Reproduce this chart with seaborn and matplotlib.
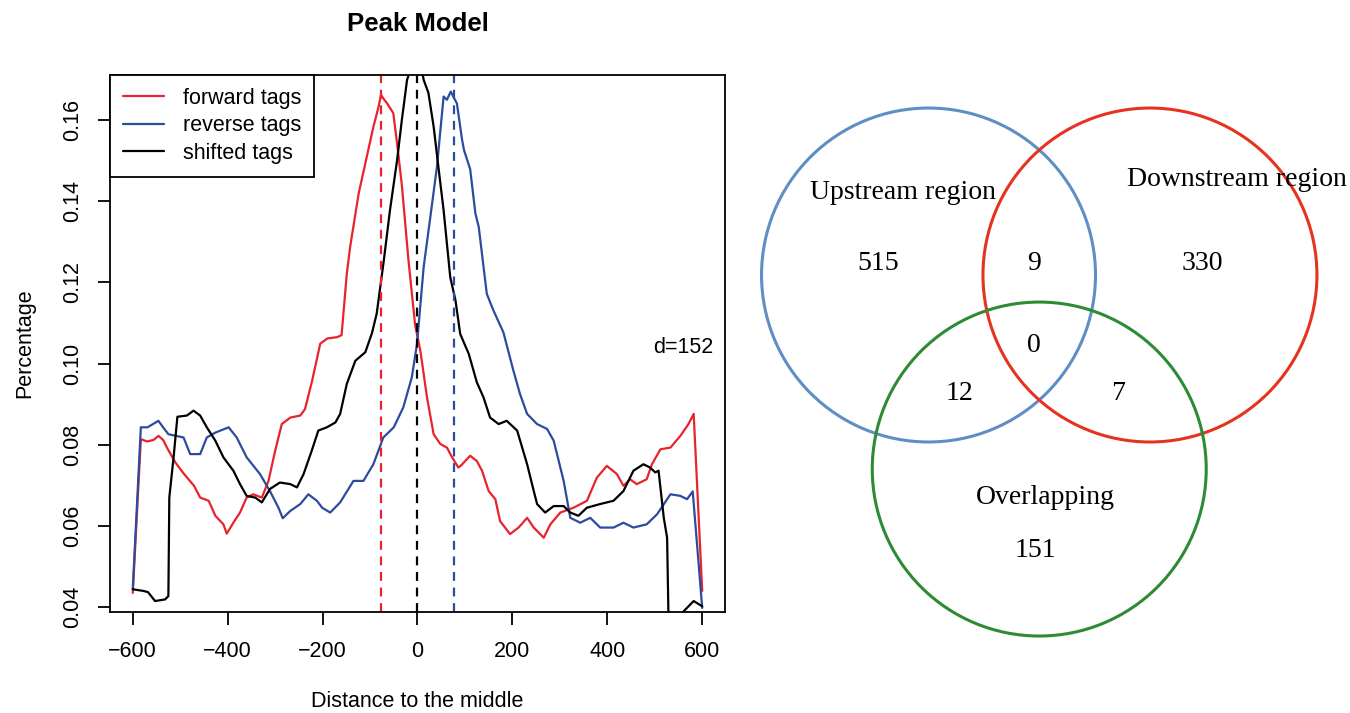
import numpy as np
import pandas as pd
import seaborn as sns
import matplotlib.pyplot as plt
from matplotlib.patches import Circle
from matplotlib.lines import Line2D

# --- peak model profiles ---
fwd_x = [-600, -583, -570, -556, -546, -536, -528, -510, -492, -471, -458, -440, -426, -409,
         -402, -388, -374, -360, -346, -328, -314, -300, -286, -268, -247, -237, -222, -205,
         -190, -170, -160, -149, -142, -124, -107, -93, -82, -77, -70, -64, -51, -43, -33,
         -19, -5, 6, 20, 34, 48, 62, 73, 86, 91, 111, 125, 136, 150, 164, 174, 195, 213,
         231, 245, 266, 280, 301, 329, 357, 378, 399, 420, 434, 448, 462, 483, 494, 512,
         533, 554, 571, 582, 600]
fwd_y = [0.0435, 0.0814, 0.0808, 0.0812, 0.0822, 0.0812, 0.0793, 0.0756, 0.0728, 0.0699,
         0.0670, 0.0662, 0.0625, 0.0604, 0.0581, 0.0608, 0.0633, 0.0670, 0.0678, 0.0670,
         0.0711, 0.0785, 0.0851, 0.0867, 0.0872, 0.0888, 0.0958, 0.1049, 0.1062, 0.1065,
         0.1070, 0.1221, 0.1287, 0.1419, 0.1509, 0.1583, 0.1633, 0.1662, 0.1650, 0.1641,
         0.1617, 0.1542, 0.1440, 0.1254, 0.1095, 0.1032, 0.0917, 0.0826, 0.0802, 0.0793,
         0.0769, 0.0744, 0.0748, 0.0773, 0.0760, 0.0736, 0.0686, 0.0666, 0.0612, 0.0580,
         0.0596, 0.0620, 0.0596, 0.0571, 0.0604, 0.0633, 0.0645, 0.0662, 0.0719, 0.0748,
         0.0728, 0.0699, 0.0715, 0.0703, 0.0715, 0.0752, 0.0789, 0.0793, 0.0822, 0.0851,
         0.0876, 0.0440]

rev_x = [-600, -583, -569, -546, -536, -525, -493, -479, -458, -444, -426, -398, -381, -360,
         -332, -311, -293, -284, -268, -247, -230, -212, -201, -184, -163, -135, -114, -93,
         -72, -50, -30, -12, -1, 13, 27, 41, 55, 62, 70, 83, 94, 98, 111, 122, 129, 146,
         160, 181, 202, 216, 231, 252, 273, 287, 308, 322, 343, 364, 385, 413, 434, 455,
         483, 505, 533, 554, 568, 580, 600]
rev_y = [0.0445, 0.0843, 0.0843, 0.0859, 0.0843, 0.0826, 0.0818, 0.0777, 0.0777, 0.0818,
         0.0830, 0.0843, 0.0818, 0.0769, 0.0728, 0.0686, 0.0645, 0.0619, 0.0637, 0.0654,
         0.0678, 0.0662, 0.0645, 0.0633, 0.0658, 0.0711, 0.0711, 0.0752, 0.0818, 0.0843,
         0.0892, 0.0966, 0.1049, 0.1238, 0.1361, 0.1485, 0.1658, 0.1650, 0.1670, 0.1641,
         0.1551, 0.1526, 0.1479, 0.1370, 0.1337, 0.1172, 0.1131, 0.1077, 0.0983, 0.0925,
         0.0876, 0.0851, 0.0839, 0.0810, 0.0711, 0.0620, 0.0608, 0.0620, 0.0596, 0.0596,
         0.0608, 0.0596, 0.0604, 0.0629, 0.0678, 0.0674, 0.0666, 0.0685, 0.0398]

shift_x = [-600, -578, -568, -553, -532, -525, -523, -514, -506, -486, -472, -458, -444,
           -426, -409, -388, -374, -360, -342, -328, -311, -290, -268, -254, -240, -223,
           -209, -191, -173, -163, -149, -131, -110, -96, -86, -71, -58, -43, -33, -22,
           -12, 0, 8, 13, 23, 34, 44, 55, 69, 80, 90, 108, 125, 139, 153, 171, 188, 210,
           231, 245, 252, 269, 287, 308, 322, 339, 357, 385, 413, 434, 455, 476, 490, 501,
           508, 519, 526, 530, 556, 561, 582, 600]
shift_y = [0.0444, 0.0440, 0.0437, 0.0415, 0.0419, 0.0427, 0.0670, 0.0769, 0.0869, 0.0872,
           0.0884, 0.0872, 0.0843, 0.0810, 0.0769, 0.0736, 0.0703, 0.0674, 0.0670, 0.0658,
           0.0691, 0.0707, 0.0703, 0.0695, 0.0728, 0.0785, 0.0835, 0.0843, 0.0855, 0.0876,
           0.0950, 0.1007, 0.1028, 0.1075, 0.1123, 0.1254, 0.1378, 0.1501, 0.1600, 0.1699,
           0.1735, 0.1745, 0.1730, 0.1699, 0.1667, 0.1584, 0.1485, 0.1378, 0.1213, 0.1156,
           0.1073, 0.1024, 0.0954, 0.0917, 0.0867, 0.0851, 0.0859, 0.0835, 0.0752, 0.0686,
           0.0654, 0.0633, 0.0649, 0.0649, 0.0633, 0.0625, 0.0645, 0.0654, 0.0662, 0.0686,
           0.0736, 0.0752, 0.0744, 0.0732, 0.0736, 0.0620, 0.0571, 0.0300, 0.0300, 0.0390,
           0.0415, 0.0402]

d = 152
tag_names = ['forward tags', 'reverse tags', 'shifted tags']
tag_colors = ['#E8232B', '#2D4B9E', '#000000']

# --- venn counts ---
set_names = ['Upstream region', 'Downstream region', 'Overlapping']
set_colors = ['#5E8EC3', '#E5331F', '#2E8B34']
only_counts = [515, 330, 151]      # up only, down only, overlapping only
pair_counts = [9, 12, 7]           # up&down, up&overlap, down&overlap
all_count = 0

sns.set_style('ticks')
plt.rcParams['font.family'] = ['Liberation Sans', 'DejaVu Sans']
plt.rcParams['axes.edgecolor'] = 'black'
plt.rcParams['text.color'] = 'black'
plt.rcParams['xtick.color'] = 'black'
plt.rcParams['ytick.color'] = 'black'
plt.rcParams['axes.labelcolor'] = 'black'

df = pd.concat([
    pd.DataFrame({'pos': fwd_x, 'pct': fwd_y, 'tags': tag_names[0]}),
    pd.DataFrame({'pos': rev_x, 'pct': rev_y, 'tags': tag_names[1]}),
    pd.DataFrame({'pos': shift_x, 'pct': shift_y, 'tags': tag_names[2]}),
])

fs = 15.5
fig = plt.figure(figsize=(13.5, 7.13), dpi=100)

# left: peak model
ax = fig.add_axes([110 / 1350, 1 - 612 / 713, 615 / 1350, 537 / 713])
sns.lineplot(data=df, x='pos', y='pct', hue='tags', hue_order=tag_names,
             palette=tag_colors, estimator=None, lw=1.6, legend=False, ax=ax)

for pos, col in zip([-d / 2, 0, d / 2], [tag_colors[0], tag_colors[2], tag_colors[1]]):
    ax.axvline(pos, color=col, lw=1.6, ls=(0, (4, 3)))

ax.set_xlim(-648, 648)
ax.set_ylim(0.0388, 0.1711)
ax.set_xticks(np.arange(-600, 601, 200))
ax.set_yticks([0.04, 0.06, 0.08, 0.10, 0.12, 0.14, 0.16])
ax.set_yticklabels(['0.04', '0.06', '0.08', '0.10', '0.12', '0.14', '0.16'])
ax.tick_params(direction='out', length=9, width=1.3, labelsize=fs)
ax.tick_params(axis='x', pad=12)
ax.tick_params(axis='y', labelrotation=90, pad=10)
for lbl in ax.get_yticklabels():
    lbl.set_va('center')
for sp in ax.spines.values():
    sp.set_linewidth(1.3)

ax.set_title('Peak Model', fontsize=18.5, fontweight='bold', pad=32)
ax.set_xlabel('Distance to the middle', fontsize=fs, labelpad=21)
ax.set_ylabel('Percentage', fontsize=fs, labelpad=20)
ax.text(560, 0.104, 'd=%d' % d, fontsize=fs, ha='center', va='center')

handles = [Line2D([0], [0], color=c, lw=1.6) for c in tag_colors]
leg = ax.legend(handles, tag_names, loc='upper left', bbox_to_anchor=(0, 1),
                borderaxespad=0, frameon=True, fancybox=False, edgecolor='black',
                fontsize=fs, handlelength=1.9, handletextpad=0.9,
                labelspacing=0.3, borderpad=0.6)
leg.get_frame().set_linewidth(1.3)
leg.get_frame().set_alpha(1)

# right: venn diagram
ax2 = fig.add_axes([740 / 1350, 0, 610 / 1350, 1])
ax2.set_xlim(-1.792, 1.861)
ax2.set_ylim(-2.623, 1.647)
ax2.axis('off')

centers = [(-0.663, 0), (0.663, 0), (0, -1.162)]
for (cx, cy), col in zip(centers, set_colors):
    ax2.add_patch(Circle((cx, cy), 1, fill=False, ec=col, lw=2.2))

serif = ['Liberation Serif', 'DejaVu Serif']
name_pos = [(-0.816, 0.497), (1.184, 0.575), (0.034, -1.335)]
for (tx, ty), name in zip(name_pos, set_names):
    ax2.text(tx, ty, name, family=serif, fontsize=20, ha='center', va='center')

only_pos = [(-0.966, 0.066), (0.975, 0.066), (-0.025, -1.647)]
pair_pos = [(-0.031, 0.066), (-0.475, -0.707), (0.472, -0.707)]
for (tx, ty), n in zip(only_pos + pair_pos, only_counts + pair_counts):
    ax2.text(tx, ty, str(n), family=serif, fontsize=20, ha='center', va='center')
ax2.text(-0.031, -0.425, str(all_count), family=serif, fontsize=20, ha='center', va='center')

fig.savefig('out.png', dpi=100)
